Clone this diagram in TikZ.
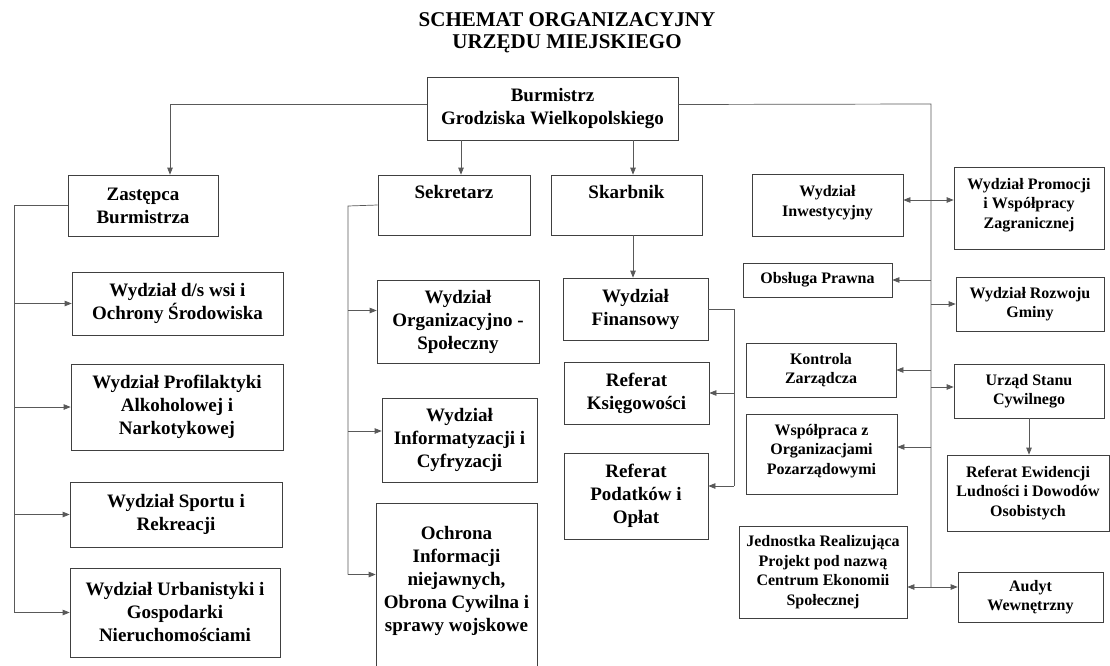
\documentclass[tikz,border=0pt]{standalone}
\usepackage{fontspec}
\setmainfont{Liberation Serif}
\usetikzlibrary{arrows.meta}
\newcommand\obox[7][bx]{\node[#1, minimum width={#5-#3}, minimum height={#6-#4}] (#2) at ({(#3+#5)/2},{(#4+#6)/2}) {#7};}
\begin{document}
\begin{tikzpicture}[x=1pt,y=-1pt,
  bx/.style={draw=black!75, line width=0.7pt, font=\bfseries\fontsize{19}{23}\selectfont, align=center, inner sep=0pt},
  sbx/.style={bx, font=\bfseries\fontsize{16}{19.5}\selectfont},
  ln/.style={draw=black!65, line width=0.7pt},
  ar/.style={ln, -{Triangle[length=7pt,width=5.5pt]}},
  dar/.style={ln, {Triangle[length=7pt,width=5.5pt]}-{Triangle[length=7pt,width=5.5pt]}}]
\useasboundingbox (0,0) rectangle (1110,666);
\node[font=\bfseries\fontsize{21}{22}\selectfont, align=center] (title) at (567,33) {SCHEMAT ORGANIZACYJNY\\URZĘDU MIEJSKIEGO};

\obox{burm}{427}{77}{678}{140}{Burmistrz\\Grodziska Wielkopolskiego}
\obox{zast}{68}{175}{218}{236}{Zastępca\\Burmistrza}
\obox{wsi}{72}{272}{283}{335}{Wydział d/s wsi i\\Ochrony Środowiska}
\obox{prof}{71}{364}{283}{450}{Wydział Profilaktyki\\Alkoholowej i\\Narkotykowej}
\obox{sport}{70}{482}{282}{547}{Wydział Sportu i\\Rekreacji}
\obox{urb}{70}{568}{280}{657}{Wydział Urbanistyki i\\Gospodarki\\Nieruchomościami}

\obox{sekr}{378}{175}{530}{235}{Sekretarz\rule[-26pt]{0pt}{0pt}}
\obox{skarb}{551}{175}{702}{235}{Skarbnik\rule[-26pt]{0pt}{0pt}}
\obox{org}{377}{280}{539}{363}{Wydział\\Organizacyjno -\\Społeczny}
\obox{inf}{382}{398}{537}{482}{Wydział\\Informatyzacji i\\Cyfryzacji}
\obox{ochr}{376}{503}{537}{668}{Ochrona\\Informacji\\niejawnych,\\Obrona Cywilna i\\sprawy wojskowe\rule[-14pt]{0pt}{0pt}}

\obox{fin}{563}{278}{708}{340}{Wydział\\Finansowy}
\obox{ksieg}{564}{362}{709}{424}{Referat\\Księgowości}
\obox{pod}{564}{453}{708}{539}{Referat\\Podatków i\\Opłat}

\obox[sbx]{inw}{752}{174}{903}{236}{Wydział\\Inwestycyjny\rule[-8pt]{0pt}{0pt}}
\obox[sbx]{prom}{954}{167}{1104}{249}{Wydział Promocji\\i Współpracy\\Zagranicznej\rule[-10pt]{0pt}{0pt}}
\obox[sbx]{obs}{743}{263}{892}{297}{Obsługa Prawna}
\obox[sbx]{rozw}{956}{277}{1104}{331}{Wydział Rozwoju\\Gminy}
\obox[sbx]{kontr}{746}{343}{896}{397}{Kontrola\\Zarządcza}
\obox[sbx]{usc}{954}{364}{1104}{418}{Urząd Stanu\\Cywilnego}
\obox[sbx]{wsp}{746}{414}{897}{494}{Współpraca z\\Organizacjami\\Pozarządowymi\rule[-10pt]{0pt}{0pt}}
\obox[sbx]{ewid}{947}{455}{1109}{531}{Referat Ewidencji\\Ludności i Dowodów\\Osobistych}
\obox[sbx]{jedn}{739}{526}{907}{618}{Jednostka Realizująca\\Projekt pod nazwą\\Centrum Ekonomii\\Społecznej}
\obox[sbx]{audyt}{958}{572}{1103}{622}{Audyt\\Wewnętrzny}

\coordinate (lb) at (14,206);
\coordinate (sb) at (348,206);
\coordinate (fb) at (734,309);
\coordinate (rb) at (931,104);
\coordinate (rbot) at (931,587);

% Burmistrz to deputies
\draw[ar] ([yshift=4pt]burm.west) -| ([xshift=27pt]zast.north);
\draw[ln] ([yshift=4pt]burm.east) -- (rb) -- (rbot);
\draw[ar] ([xshift=7pt]sekr.north |- burm.south) -- ([xshift=7pt]sekr.north);
\draw[ar] ([xshift=6.5pt]skarb.north |- burm.south) -- ([xshift=6.5pt]skarb.north);
\draw[ar] ([xshift=6.5pt]skarb.south) -- ([xshift=6.5pt]skarb.south |- fin.north);

% Zastepca bus
\draw[ln] (zast.west) -- (zast.west -| lb) -- (urb.west -| lb);
\foreach \n in {wsi,prof,sport,urb} \draw[ar] (\n.west -| lb) -- (\n.west);

% Sekretarz bus
\draw[ln] (sekr.west) -- (sb) -- ([yshift=11pt]ochr.west -| sb);
\draw[ar] ([yshift=11pt]org.west -| sb) -- ([yshift=11pt]org.west);
\draw[ar] ([yshift=9pt]inf.west -| sb) -- ([yshift=9pt]inf.west);
\draw[ar] ([yshift=11pt]ochr.west -| sb) -- ([yshift=11pt]ochr.west);

% Skarbnik / Finansowy bus
\draw[ln] (fin.east) -- (fb) -- ([yshift=10pt]pod.east -| fb);
\draw[ar] (ksieg.east -| fb) -- (ksieg.east);
\draw[ar] ([yshift=10pt]pod.east -| fb) -- ([yshift=10pt]pod.east);

% right bus
\draw[dar] ([yshift=5pt]inw.east) -- ([yshift=5pt]inw.east -| prom.west);
\draw[ar] (obs.east -| rb) -- (obs.east);
\draw[ar] (rozw.west -| rb) -- (rozw.west);
\draw[ar] (kontr.east -| rb) -- (kontr.east);
\draw[ar] ([yshift=4pt]usc.west -| rb) -- ([yshift=4pt]usc.west);
\draw[ar] ([yshift=7pt]wsp.east -| rb) -- ([yshift=7pt]wsp.east);
\draw[ar] (usc.south) -- (usc.south |- ewid.north);
\draw[dar] (jedn.east |- rbot) -- (audyt.west |- rbot);
\end{tikzpicture}
\end{document}
